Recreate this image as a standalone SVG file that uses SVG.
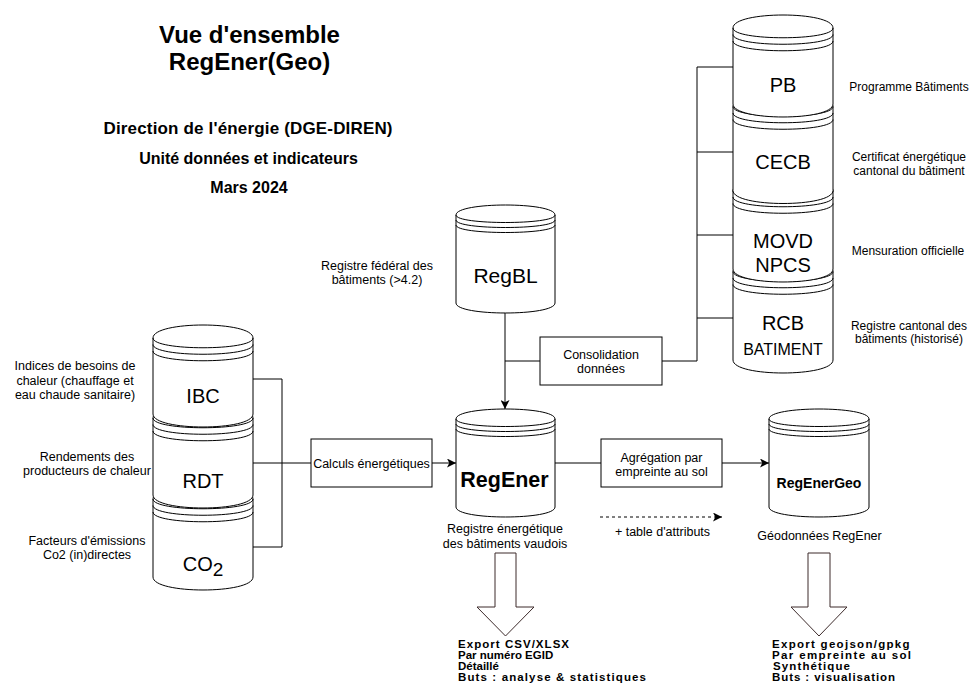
<svg xmlns="http://www.w3.org/2000/svg" width="973" height="698" viewBox="0 0 973 698">
<style>
text{font-family:"Liberation Sans",Arial,Helvetica,sans-serif;fill:#000}
.cyl{fill:#fff;stroke:#000;stroke-width:1}
.arc{fill:none;stroke:#000;stroke-width:1}
.box{fill:#fff;stroke:#000;stroke-width:1}
.lbl{font-size:12.5px;text-anchor:middle}
.rlbl{font-size:12px;text-anchor:middle}
.big{font-size:20px;text-anchor:middle}
.big16{font-size:16px;text-anchor:middle}
.big21{font-size:21px;text-anchor:middle}
.bold21{font-size:21.5px;font-weight:bold;text-anchor:middle}
.bold14{font-size:14px;font-weight:bold;text-anchor:middle}
.ttl{font-size:24px;font-weight:bold;text-anchor:middle}
.sub{font-size:16px;font-weight:bold;text-anchor:middle}
.sub17{font-size:17px;font-weight:bold;text-anchor:middle}
.exp{font-size:11.5px;font-weight:bold}
.edge{fill:none;stroke:#000;stroke-width:1}
.dash{fill:none;stroke:#000;stroke-width:1;stroke-dasharray:3 3}
.block{fill:#fff;stroke:#3d2b2b;stroke-width:1}
</style>
<defs>
<marker id="arr" viewBox="0 0 10 10" refX="10" refY="5" markerWidth="10" markerHeight="9" markerUnits="userSpaceOnUse" orient="auto">
<path d="M0,0 L10,5 L0,10 L2.5,5 Z" fill="#000"/>
</marker>
</defs>

<g id="title">
<text class="ttl" x="249.5" y="43">Vue d'ensemble</text>
<text class="ttl" x="249.5" y="70">RegEner(Geo)</text>
<text class="sub17" x="248" y="133.5" textLength="289">Direction de l'énergie (DGE-DIREN)</text>
<text class="sub" x="248.5" y="164">Unité données et indicateurs</text>
<text class="sub" x="249" y="193">Mars 2024</text>
</g>

<!-- left stack -->
<g id="co2" transform="translate(153,486)">
<path class="cyl" d="M0,13 C0,-4.33 100,-4.33 100,13 L100,91 C100,108.33 0,108.33 0,91 Z"/>
<path class="arc" d="M0,13 C0,26 100,26 100,13 M0,19.5 C0,32.5 100,32.5 100,19.5 M0,26 C0,39 100,39 100,26"/>
<text class="big" x="50" y="85"><tspan>CO</tspan><tspan style="font-size:19px" dy="5">2</tspan></text>
</g>
<g id="rdt" transform="translate(153,405)">
<path class="cyl" d="M0,13 C0,-4.33 100,-4.33 100,13 L100,90 C100,107.33 0,107.33 0,90 Z"/>
<path class="arc" d="M0,13 C0,26 100,26 100,13 M0,19.5 C0,32.5 100,32.5 100,19.5 M0,26 C0,39 100,39 100,26"/>
<text class="big" x="50" y="83">RDT</text>
</g>
<g id="ibc" transform="translate(153,325)">
<path class="cyl" d="M0,13 C0,-4.33 100,-4.33 100,13 L100,89 C100,106.33 0,106.33 0,89 Z"/>
<path class="arc" d="M0,13 C0,26 100,26 100,13 M0,19.5 C0,32.5 100,32.5 100,19.5 M0,26 C0,39 100,39 100,26"/>
<text class="big" x="50" y="78">IBC</text>
</g>

<g id="left-labels">
<text class="lbl" x="75" y="370">Indices de besoins de</text>
<text class="lbl" x="75" y="384.5">chaleur (chauffage et</text>
<text class="lbl" x="75" y="399">eau chaude sanitaire)</text>
<text class="lbl" x="87" y="460.5">Rendements des</text>
<text class="lbl" x="87" y="475">producteurs de chaleur</text>
<text class="lbl" x="87" y="544.5">Facteurs d'émissions</text>
<text class="lbl" x="87" y="559">Co2 (in)directes</text>
</g>

<!-- right stack -->
<g id="rcb" transform="translate(733,258.5)">
<path class="cyl" d="M0,13 C0,-4.33 100,-4.33 100,13 L100,101.5 C100,118.83 0,118.83 0,101.5 Z"/>
<path class="arc" d="M0,13 C0,26 100,26 100,13 M0,19.5 C0,32.5 100,32.5 100,19.5 M0,26 C0,39 100,39 100,26"/>
<text class="big" x="50" y="71.5">RCB</text>
<text class="big16" x="50" y="96.5">BATIMENT</text>
</g>
<g id="movd" transform="translate(733,177.5)">
<path class="cyl" d="M0,13 C0,-4.33 100,-4.33 100,13 L100,91.5 C100,108.83 0,108.83 0,91.5 Z"/>
<path class="arc" d="M0,13 C0,26 100,26 100,13 M0,19.5 C0,32.5 100,32.5 100,19.5 M0,26 C0,39 100,39 100,26"/>
<text class="big" x="50" y="70.5">MOVD</text>
<text class="big" x="50" y="94">NPCS</text>
</g>
<g id="cecb" transform="translate(733,93.5)">
<path class="cyl" d="M0,13 C0,-4.33 100,-4.33 100,13 L100,97 C100,114.33 0,114.33 0,97 Z"/>
<path class="arc" d="M0,13 C0,26 100,26 100,13 M0,19.5 C0,32.5 100,32.5 100,19.5 M0,26 C0,39 100,39 100,26"/>
<text class="big" x="50" y="75.5">CECB</text>
</g>
<g id="pb" transform="translate(733,15)">
<path class="cyl" d="M0,13 C0,-4.33 100,-4.33 100,13 L100,89 C100,106.33 0,106.33 0,89 Z"/>
<path class="arc" d="M0,13 C0,26 100,26 100,13 M0,19.5 C0,32.5 100,32.5 100,19.5 M0,26 C0,39 100,39 100,26"/>
<text class="big" x="50" y="77">PB</text>
</g>

<g id="right-labels">
<text class="rlbl" x="909" y="91">Programme Bâtiments</text>
<text class="rlbl" x="909" y="161">Certificat énergétique</text>
<text class="rlbl" x="909" y="174.5">cantonal du bâtiment</text>
<text class="rlbl" x="908" y="254.5">Mensuration officielle</text>
<text class="rlbl" x="909" y="329.5">Registre cantonal des</text>
<text class="rlbl" x="909" y="343">bâtiments (historisé)</text>
</g>

<g id="regbl" transform="translate(456,205)">
<path class="cyl" d="M0,10 C0,-3.33 99,-3.33 99,10 L99,98 C99,111.33 0,111.33 0,98 Z"/>
<path class="arc" d="M0,10 C0,20 99,20 99,10 M0,15 C0,25 99,25 99,15 M0,20 C0,30 99,30 99,20"/>
<text class="big21" x="49.5" y="78">RegBL</text>
</g>
<g id="regbl-label">
<text class="lbl" x="377" y="269.5">Registre fédéral des</text>
<text class="lbl" x="377" y="283.5">bâtiments (&gt;4.2)</text>
</g>

<g id="regener" transform="translate(456,409)">
<path class="cyl" d="M0,10 C0,-3.33 99,-3.33 99,10 L99,98 C99,111.33 0,111.33 0,98 Z"/>
<path class="arc" d="M0,10 C0,20 99,20 99,10 M0,15 C0,25 99,25 99,15 M0,20 C0,30 99,30 99,20"/>
<text class="bold21" x="48.5" y="78">RegEner</text>
</g>
<g id="regener-label">
<text class="lbl" x="505" y="532.5">Registre énergétique</text>
<text class="lbl" x="505" y="547.5">des bâtiments vaudois</text>
</g>

<g id="regenergeo" transform="translate(769,409)">
<path class="cyl" d="M0,10 C0,-3.33 100,-3.33 100,10 L100,98 C100,111.33 0,111.33 0,98 Z"/>
<path class="arc" d="M0,10 C0,20 100,20 100,10 M0,15 C0,25 100,25 100,15 M0,20 C0,30 100,30 100,20"/>
<text class="bold14" x="50" y="79">RegEnerGeo</text>
</g>
<g id="regenergeo-label">
<text class="lbl" x="819.5" y="539.5">Géodonnées RegEner</text>
</g>

<g id="consolidation">
<rect class="box" x="540" y="337" width="122" height="48"/>
<text class="lbl" x="601" y="358.5">Consolidation</text>
<text class="lbl" x="601" y="372.5">données</text>
</g>
<g id="calculs">
<rect class="box" x="311" y="439" width="121" height="48"/>
<text class="lbl" x="371.5" y="467.5">Calculs énergétiques</text>
</g>
<g id="agregation">
<rect class="box" x="601" y="439" width="121" height="48"/>
<text class="lbl" x="661.5" y="461.5">Agrégation par</text>
<text class="lbl" x="661.5" y="475.5">empreinte au sol</text>
</g>

<g id="connectors">
<path class="edge" d="M505,313 L505,409" marker-end="url(#arr)"/>
<path class="edge" d="M540,361 L505,361"/>
<path class="edge" d="M733,67 L697,67 L697,361 L662,361"/>
<path class="edge" d="M733,152 L697,152 M733,235 L697,235 M733,318 L697,318"/>
<path class="edge" d="M253,379 L282,379 L282,547 L253,547"/>
<path class="edge" d="M253,463 L311,463"/>
<path class="edge" d="M432,463 L456,463" marker-end="url(#arr)"/>
<path class="edge" d="M555,463 L601,463"/>
<path class="edge" d="M722,463 L769,463" marker-end="url(#arr)"/>
<path class="dash" d="M600,517 L722,517" marker-end="url(#arr)"/>
</g>
<g id="attr-label">
<text class="lbl" x="662.5" y="536">+ table d'attributs</text>
</g>

<g id="export-csv">
<path class="block" d="M495,553 L516,553 L516,607 L534,607 L505.5,636 L477,607 L495,607 Z"/>
<text class="exp" x="458" y="648" textLength="111">Export CSV/XLSX</text>
<text class="exp" x="458" y="659">Par numéro EGID</text>
<text class="exp" x="458" y="670">Détaillé</text>
<text class="exp" x="458" y="681" textLength="188">Buts : analyse &amp; statistiques</text>
</g>
<g id="export-geo">
<path class="block" d="M808,553 L830,553 L830,607 L847,607 L819,636 L791,607 L808,607 Z"/>
<text class="exp" x="772" y="648" textLength="137.5">Export geojson/gpkg</text>
<text class="exp" x="772" y="659" textLength="139">Par empreinte au sol</text>
<text class="exp" x="773" y="670" textLength="77">Synthétique</text>
<text class="exp" x="772" y="681" textLength="123">Buts : visualisation</text>
</g>
</svg>
